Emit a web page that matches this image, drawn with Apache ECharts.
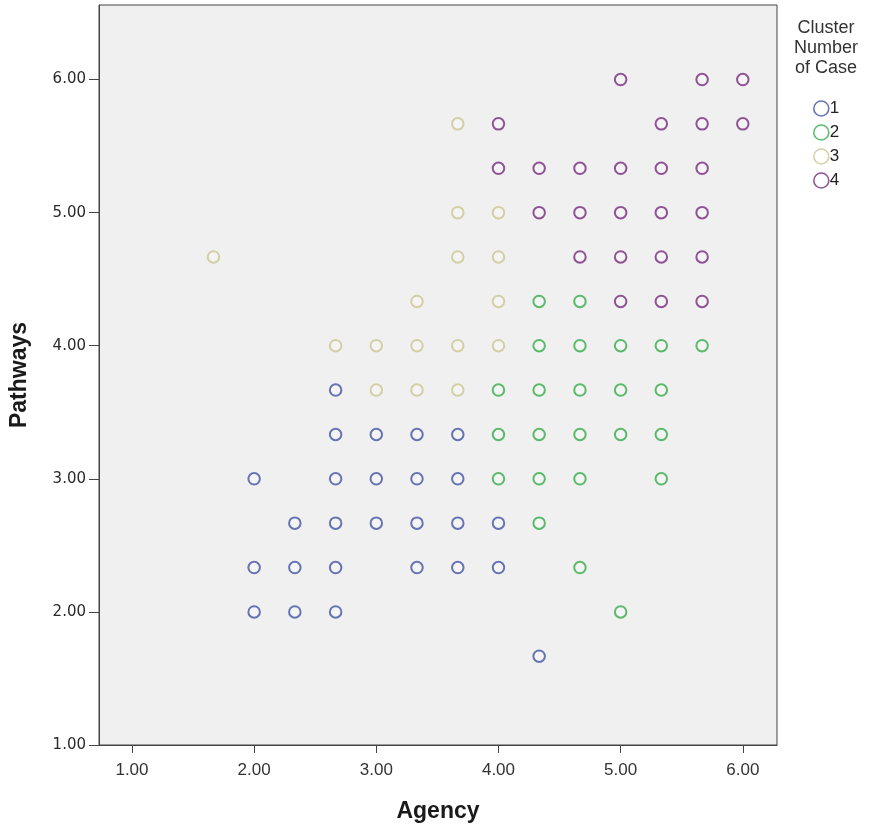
<!DOCTYPE html>
<html>
<head>
<meta charset="utf-8">
<script src="https://cdn.jsdelivr.net/npm/echarts@6/dist/echarts.min.js"></script>
<style>html,body{margin:0;padding:0;background:#fff}#c{width:869px;height:828px}</style>
</head>
<body>
<div id="c"></div>
<script>
const tickValues = [1, 2, 3, 4, 5, 6];
const clusterNames = ['1', '2', '3', '4'];
// [Agency, Pathways]
const cluster1 = [[2,3],[2.667,3.667],[2.667,3.333],[3,3.333],[3.333,3.333],[3.667,3.333],[2.667,3],[3,3],[3.333,3],[3.667,3],
  [2.333,2.667],[2.667,2.667],[3,2.667],[3.333,2.667],[3.667,2.667],[4,2.667],
  [2,2.333],[2.333,2.333],[2.667,2.333],[3.333,2.333],[3.667,2.333],[4,2.333],
  [2,2],[2.333,2],[2.667,2],[4.333,1.667]];
const cluster2 = [[4.333,4.333],[4.667,4.333],
  [4.333,4],[4.667,4],[5,4],[5.333,4],[5.667,4],
  [4,3.667],[4.333,3.667],[4.667,3.667],[5,3.667],[5.333,3.667],
  [4,3.333],[4.333,3.333],[4.667,3.333],[5,3.333],[5.333,3.333],
  [4,3],[4.333,3],[4.667,3],[5.333,3],
  [4.333,2.667],[4.667,2.333],[5,2]];
const cluster3 = [[3.667,5.667],[3.667,5],[4,5],[1.667,4.667],[3.667,4.667],[4,4.667],[3.333,4.333],[4,4.333],
  [2.667,4],[3,4],[3.333,4],[3.667,4],[4,4],[3,3.667],[3.333,3.667],[3.667,3.667]];
const cluster4 = [[5,6],[5.667,6],[6,6],[4,5.667],[5.333,5.667],[5.667,5.667],[6,5.667],
  [4,5.333],[4.333,5.333],[4.667,5.333],[5,5.333],[5.333,5.333],[5.667,5.333],
  [4.333,5],[4.667,5],[5,5],[5.333,5],[5.667,5],
  [4.667,4.667],[5,4.667],[5.333,4.667],[5.667,4.667],
  [5,4.333],[5.333,4.333],[5.667,4.333]];
const clusterData = [cluster1, cluster2, cluster3, cluster4];
const colors = ['#4254a4', '#35ab48', '#cbc791', '#772a7d'];

const chart = echarts.init(document.getElementById('c'), null, {renderer: 'canvas'});
const fmt = v => v.toFixed(2);
chart.setOption({
  backgroundColor: '#ffffff',
  animation: false,
  grid: {left: 98, top: 5, right: 92, bottom: 83, show: true, backgroundColor: '#f0f0f0', borderColor: '#444', borderWidth: 1},
  xAxis: {
    type: 'value', min: 0.73, max: 6.28,
    name: 'Agency', nameLocation: 'middle', nameGap: 55,
    nameTextStyle: {fontFamily: 'Liberation Sans', fontWeight: 'bold', fontSize: 23, color: '#1a1a1a'},
    splitLine: {show: false},
    axisLine: {lineStyle: {color: '#444'}},
    axisTick: {customValues: tickValues, length: 8, lineStyle: {color: '#444'}},
    axisLabel: {customValues: tickValues, formatter: fmt, fontFamily: 'Liberation Sans', fontSize: 17, color: '#333', margin: 17}
  },
  yAxis: {
    type: 'value', min: 1, max: 6.56,
    name: 'Pathways', nameLocation: 'middle', nameGap: 68, nameRotate: 90,
    nameTextStyle: {fontFamily: 'Liberation Sans', fontWeight: 'bold', fontSize: 23, color: '#1a1a1a'},
    splitLine: {show: false},
    axisLine: {lineStyle: {color: '#444'}},
    axisTick: {customValues: tickValues, length: 10, lineStyle: {color: '#444'}},
    axisLabel: {customValues: tickValues, formatter: fmt, fontFamily: 'DejaVu Sans', fontSize: 15, color: '#2a2a2a', margin: 13}
  },
  legend: {
    orient: 'vertical', left: 808, top: 95, itemGap: 7, itemWidth: 15, itemHeight: 15,
    textStyle: {fontFamily: 'Liberation Sans', fontSize: 17, color: '#222', padding: [0,0,0,-4]},
    data: clusterNames.map((n, i) => ({name: n, icon: 'circle', itemStyle: {color: 'rgba(0,0,0,0)', borderColor: colors[i], borderWidth: 1.6}}))
  },
  graphic: [{
    type: 'text', x: 826, y: 18,
    style: {text: 'Cluster\nNumber\nof Case', align: 'center', fontFamily: 'Liberation Sans', fontSize: 18, lineHeight: 20, fill: '#333'}
  }],
  series: clusterNames.map((n, i) => ({
    name: n, type: 'scatter', data: clusterData[i], symbol: 'circle', symbolSize: 11.5,
    itemStyle: {color: 'rgba(255,255,255,0.35)', borderColor: colors[i], borderWidth: 2}
  }))
});
</script>
</body>
</html>
